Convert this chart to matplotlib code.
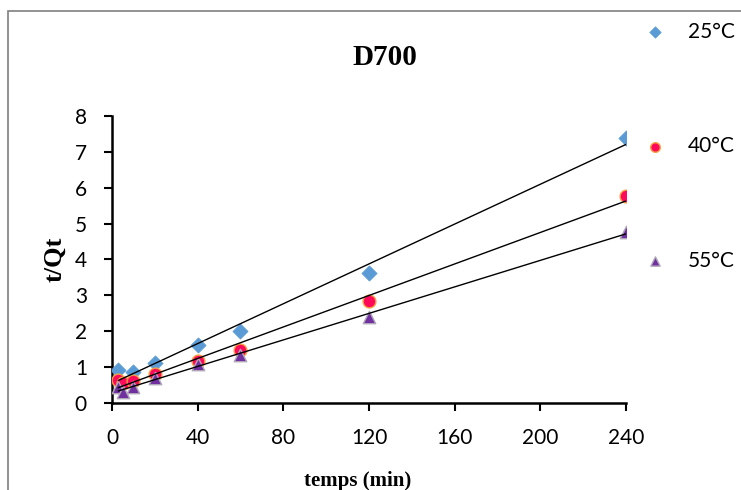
import matplotlib

matplotlib.use("Agg")

import numpy as np
import matplotlib.pyplot as plt
from matplotlib.patches import Rectangle

# times (min) and t/Qt values
temps = [3, 5, 10, 20, 40, 60, 120, 240]
temps_25 = [3, 10, 20, 40, 60, 120, 240]
tq_25 = [0.91, 0.86, 1.11, 1.61, 2.00, 3.62, 7.39]
tq_40 = [0.63, 0.55, 0.61, 0.80, 1.16, 1.47, 2.84, 5.77]
tq_55 = [0.44, 0.30, 0.44, 0.69, 1.08, 1.33, 2.39, 4.77]

labels = ["25°C", "40°C", "55°C"]
xticks = [0, 40, 80, 120, 160, 200, 240]
yticks = [0, 1, 2, 3, 4, 5, 6, 7, 8]

fig = plt.figure(figsize=(7.41, 4.9), dpi=100)
ax = fig.add_axes([0.1511, 0.1776, 0.6937, 0.5857])

# outer chart border (only top and left visible in the crop)
fig.patches.append(Rectangle((8 / 741, -0.1), 2, 1.1 - 11 / 490, transform=fig.transFigure,
                             fill=False, edgecolor="#7f7f7f", linewidth=1.2))

series = [
    (temps_25, tq_25, dict(marker="D", s=60, color="#5B9BD5", edgecolors="#5B9BD5", linewidths=0.5)),
    (temps, tq_40, dict(marker="o", s=85, color="#FF0A5A", edgecolors="#F7A040", linewidths=1.0)),
    (temps, tq_55, dict(marker="^", s=80, color="#7030A0", edgecolors="#B0A8B8", linewidths=1.0)),
]

handles = []
for (x, y, style), lab in zip(series, labels):
    h = ax.scatter(x, y, zorder=3, label=lab, **style)
    handles.append(h)
    p = np.polyfit(x, y, 1)
    xf = np.array([min(x), 240])
    ax.plot(xf, np.polyval(p, xf), color="black", linewidth=1.0, zorder=4)

ax.set_xlim(0, 240)
ax.set_ylim(0, 8)
ax.set_xticks(xticks)
ax.set_yticks(yticks)
ax.spines["top"].set_visible(False)
ax.spines["right"].set_visible(False)
ax.spines["left"].set_linewidth(1.8)
ax.spines["bottom"].set_linewidth(1.8)
ax.tick_params(direction="out", length=6, width=1.5, labelsize=15, pad=12)
for t in ax.get_xticklabels() + ax.get_yticklabels():
    t.set_fontfamily("Lato")

serif = "Liberation Serif"
fig.text(0.52, 0.882, "D700", ha="center", va="center", fontsize=21, fontweight="bold", family=serif)
fig.text(0.074, 0.47, "t/Qt", ha="center", va="center", rotation=90, fontsize=19,
         fontweight="bold", family=serif)
fig.text(0.483, 0.018, "temps (min)", ha="center", va="center", fontsize=15,
         fontweight="bold", family=serif)

leg = fig.legend(handles=handles, labels=labels, loc="upper left", bbox_to_anchor=(0.848, 0.994),
                 frameon=False, labelspacing=4.54, handletextpad=1.15, handlelength=0.8,
                 prop={"family": "Lato", "size": 15}, scatterpoints=1, markerscale=0.75)

plt.savefig("out.png", dpi=100)
